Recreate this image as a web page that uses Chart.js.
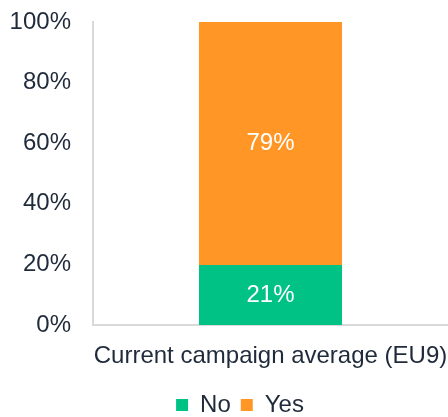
<!DOCTYPE html>
<html>
<head>
<meta charset="utf-8">
<script src="https://cdn.jsdelivr.net/npm/chart.js@4.4.1/dist/chart.umd.min.js"></script>
<style>
  html, body { margin: 0; padding: 0; background: #ffffff; overflow: hidden; }
  #wrap { width: 448px; height: 427px; }
</style>
</head>
<body>
<div id="wrap"><canvas id="c" width="448" height="427"></canvas></div>
<script>
const categories = ['Current campaign average (EU9)'];
const seriesNames = ['No', 'Yes'];
const noValues = [19.8];
const yesValues = [80.2];
const noLabels = ['21%'];
const yesLabels = ['79%'];
const yTicks = [0, 20, 40, 60, 80, 100];

const FONT = "'Liberation Sans', Arial, sans-serif";
const TEXT = '#1f2a3a';

const valueLabels = {
  id: 'valueLabels',
  afterDatasetsDraw(chart) {
    const ctx = chart.ctx;
    ctx.save();
    ctx.font = '24px ' + FONT;
    ctx.fillStyle = '#ffffff';
    ctx.textAlign = 'center';
    ctx.textBaseline = 'middle';
    chart.data.datasets.forEach((ds, di) => {
      const meta = chart.getDatasetMeta(di);
      meta.data.forEach((el, i) => {
        const p = el.getProps(['x', 'y', 'base'], true);
        ctx.fillText(ds.valueText[i], p.x, (p.y + p.base) / 2);
      });
    });
    ctx.restore();
  }
};

// shift the legend block so it is centred like the reference
const legendShift = {
  id: 'legendShift',
  afterLayout(chart) {
    if (chart.legend) { chart.legend.left += 32; chart.legend.right += 0; }
  }
};

new Chart(document.getElementById('c'), {
  type: 'bar',
  data: {
    labels: categories,
    datasets: [
      { label: seriesNames[0], data: noValues, valueText: noLabels, backgroundColor: '#00C285', borderWidth: 0 },
      { label: seriesNames[1], data: yesValues, valueText: yesLabels, backgroundColor: '#FF9626', borderWidth: 0 }
    ]
  },
  options: {
    responsive: false,
    animation: false,
    devicePixelRatio: 1,
    layout: { padding: { top: 22, left: 0, right: 0, bottom: 0 } },
    datasets: { bar: { categoryPercentage: 1, barPercentage: 0.403 } },
    plugins: {
      tooltip: { enabled: false },
      legend: {
        position: 'bottom',
        align: 'center',
        labels: {
          boxWidth: 12,
          boxHeight: 12,
          padding: 10,
          color: TEXT,
          font: { size: 24, family: FONT }
        }
      }
    },
    scales: {
      x: {
        stacked: true,
        grid: { display: false, drawTicks: false },
        border: { display: true, color: '#d9d9d9', width: 2 },
        ticks: { color: TEXT, font: { size: 24, family: FONT }, padding: 17, maxRotation: 0, minRotation: 0 },
        afterFit(s) { s.height = 58; s.paddingLeft = 0; s.paddingRight = 0; }
      },
      y: {
        stacked: true,
        min: 0,
        max: 100,
        afterBuildTicks(s) { s.ticks = yTicks.map(v => ({ value: v })); },
        grid: { display: false, drawTicks: false },
        border: { display: true, color: '#d9d9d9', width: 2 },
        ticks: { color: TEXT, font: { size: 24, family: FONT }, padding: 22, callback: v => v + '%' },
        afterFit(s) { s.width = 93; s.paddingTop = 0; s.paddingBottom = 0; }
      }
    }
  },
  plugins: [valueLabels, legendShift]
});
</script>
</body>
</html>
